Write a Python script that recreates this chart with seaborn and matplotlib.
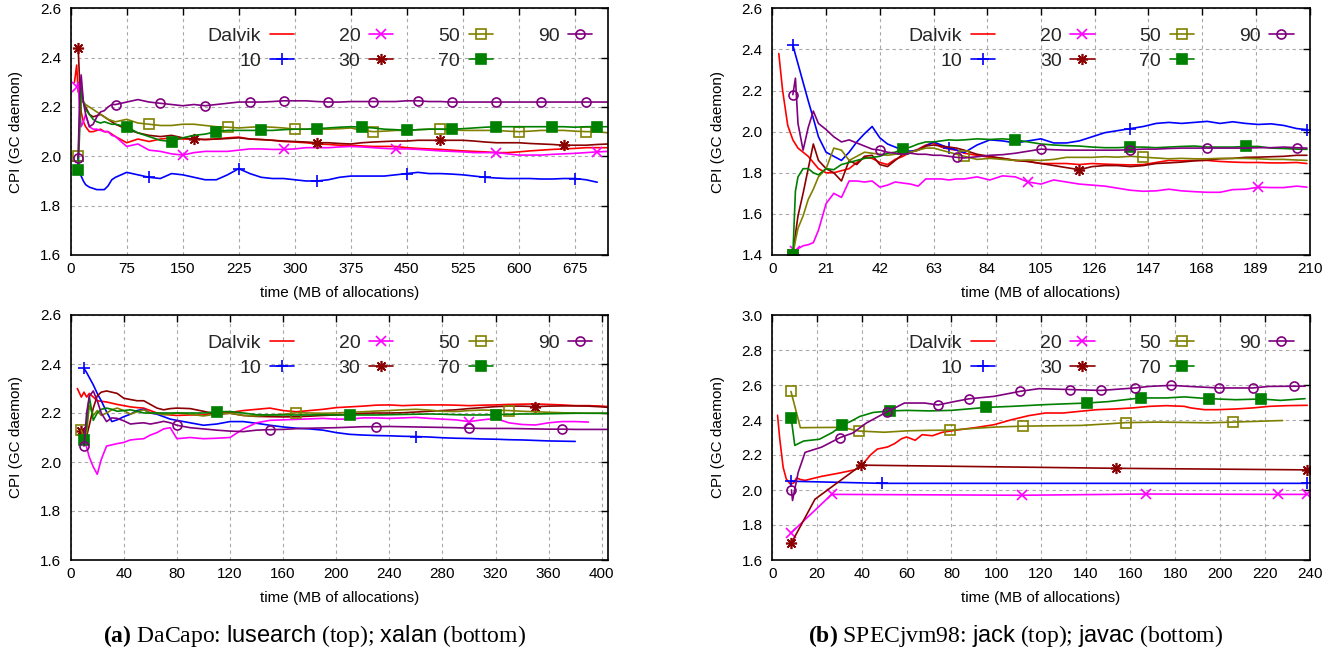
import numpy as np
import pandas as pd
import matplotlib
matplotlib.use("Agg")
import matplotlib.pyplot as plt
from matplotlib.lines import Line2D
import seaborn as sns

nan = np.nan

SERIES = ["Dalvik", "10", "20", "30", "50", "70", "90"]

# ---------------- DaCapo lusearch (top left) ----------------
LUS_X = [5, 8, 10, 12, 14, 17, 20, 25, 30, 35, 40, 45, 50, 55, 60,
         75, 90, 105, 120, 135, 150, 165, 180, 195, 210,
         225, 240, 255, 270, 285, 300, 315, 330, 345, 360,
         375, 390, 405, 420, 435, 450, 465, 480, 495, 510,
         525, 540, 555, 570, 585, 600, 615, 630, 645, 660,
         675, 690, 705, 720]
LUS_DALVIK = [2.30, 2.37, 2.26, 2.30, 2.18, 2.14, 2.12, 2.10, 2.10, 2.105, 2.11, 2.10, 2.10, 2.09, 2.08,
              2.055, 2.07, 2.06, 2.07, 2.075, 2.07, 2.07, 2.068, 2.07, 2.075,
              2.078, 2.07, 2.068, 2.065, 2.06, 2.058, 2.055, 2.05, 2.048, 2.045,
              2.045, 2.042, 2.04, 2.04, 2.04, 2.035, 2.032, 2.03, 2.028, 2.025,
              2.022, 2.02, 2.018, 2.015, 2.015, 2.018, 2.022, 2.025, 2.028, 2.03,
              2.032, 2.035, 2.035, 2.035]
LUS_10 = [nan, nan, 1.98, 1.95, 1.92, 1.90, 1.885, 1.875, 1.87, 1.865, 1.865, 1.865, 1.88, 1.905, 1.915,
          1.935, 1.925, 1.915, 1.91, 1.93, 1.925, 1.915, 1.905, 1.905, 1.925,
          1.95, 1.93, 1.915, 1.91, 1.91, 1.905, 1.90, 1.90, 1.905, 1.915,
          1.92, 1.92, 1.92, 1.92, 1.925, 1.93, 1.935, 1.93, 1.93, 1.928,
          1.925, 1.92, 1.915, 1.912, 1.91, 1.91, 1.91, 1.908, 1.908, 1.91,
          1.91, 1.905, 1.895, nan]
LUS_20 = [nan, 2.28, 2.30, 2.20, 2.12, 2.14, 2.17, 2.12, 2.11, 2.11, 2.105, 2.10, 2.10, 2.085, 2.08,
          2.04, 2.05, 2.025, 2.02, 2.01, 2.005, 2.015, 2.02, 2.02, 2.02,
          2.025, 2.03, 2.03, 2.028, 2.028, 2.03, 2.035, 2.035, 2.035, 2.038,
          2.04, 2.038, 2.035, 2.032, 2.03, 2.03, 2.028, 2.025, 2.022, 2.02,
          2.018, 2.015, 2.015, 2.015, 2.01, 2.005, 2.005, 2.005, 2.008, 2.01,
          2.012, 2.015, 2.018, 2.02]
LUS_30 = [nan, nan, 2.44, 2.30, 2.26, 2.22, 2.20, 2.17, 2.16, 2.165, 2.17, 2.16, 2.15, 2.14, 2.13,
          2.11, 2.095, 2.085, 2.08, 2.085, 2.075, 2.07, 2.068, 2.07, 2.072,
          2.075, 2.07, 2.068, 2.065, 2.062, 2.06, 2.058, 2.055, 2.055, 2.052,
          2.05, 2.055, 2.058, 2.06, 2.062, 2.062, 2.065, 2.065, 2.065, 2.065,
          2.065, 2.062, 2.058, 2.055, 2.055, 2.055, 2.052, 2.05, 2.048, 2.045,
          2.045, 2.045, 2.048, 2.05]
LUS_50 = [nan, nan, 2.0, 2.15, 2.24, 2.22, 2.21, 2.20, 2.19, 2.18, 2.17, 2.16, 2.15, 2.145, 2.14,
          2.15, 2.135, 2.13, 2.125, 2.125, 2.13, 2.13, 2.125, 2.12, 2.118,
          2.115, 2.118, 2.12, 2.118, 2.115, 2.11, 2.11, 2.11, 2.11, 2.112,
          2.115, 2.105, 2.10, 2.102, 2.105, 2.105, 2.108, 2.11, 2.11, 2.108,
          2.105, 2.105, 2.105, 2.105, 2.102, 2.10, 2.102, 2.105, 2.105, 2.105,
          2.102, 2.10, 2.10, 2.095]
LUS_70 = [nan, nan, 1.945, 2.10, 2.28, 2.22, 2.19, 2.17, 2.15, 2.14, 2.135, 2.14, 2.135, 2.13, 2.13,
          2.12, 2.095, 2.08, 2.065, 2.06, 2.075, 2.085, 2.09, 2.10, 2.105,
          2.105, 2.105, 2.105, 2.105, 2.108, 2.11, 2.11, 2.112, 2.115, 2.118,
          2.12, 2.118, 2.115, 2.11, 2.108, 2.105, 2.108, 2.11, 2.11, 2.11,
          2.112, 2.115, 2.118, 2.12, 2.12, 2.12, 2.12, 2.12, 2.12, 2.12,
          2.118, 2.12, 2.12, 2.12]
LUS_90 = [nan, nan, 1.995, 2.25, 2.33, 2.22, 2.17, 2.12, 2.13, 2.16, 2.18, 2.185, 2.20, 2.21, 2.21,
          2.22, 2.23, 2.22, 2.215, 2.21, 2.205, 2.21, 2.205, 2.21, 2.215,
          2.22, 2.22, 2.22, 2.222, 2.225, 2.225, 2.225, 2.222, 2.22, 2.22,
          2.222, 2.222, 2.222, 2.222, 2.222, 2.225, 2.225, 2.222, 2.222, 2.22,
          2.22, 2.22, 2.22, 2.22, 2.22, 2.22, 2.22, 2.22, 2.22, 2.22,
          2.22, 2.22, 2.22, 2.22]

# ---------------- SPECjvm98 jack (top right) ----------------
JACK_X = [2.5, 4, 6, 8, 9, 10, 12, 14, 16, 18,
          21, 24, 27, 30, 33, 36, 39, 42, 45, 48,
          51, 54, 57, 60, 63, 66, 69, 72, 75, 80,
          85, 90, 95, 100, 105, 110, 115, 120, 125, 130,
          135, 140, 145, 150, 155, 160, 165, 170, 175, 180,
          185, 190, 195, 200, 205, 209]
JACK_DALVIK = [2.38, 2.20, 2.03, 1.96, 1.94, 1.92, 1.90, 1.88, 1.85, 1.82,
               1.80, 1.80, 1.81, 1.82, 1.85, 1.875, 1.87, 1.85, 1.84, 1.865,
               1.88, 1.90, 1.915, 1.935, 1.945, 1.925, 1.915, 1.91, 1.895, 1.885,
               1.875, 1.87, 1.86, 1.855, 1.845, 1.845, 1.845, 1.84, 1.845, 1.842,
               1.84, 1.838, 1.84, 1.85, 1.86, 1.858, 1.86, 1.86, 1.855, 1.852,
               1.85, 1.85, 1.848, 1.848, 1.85, 1.845]
JACK_10 = [nan, nan, nan, 2.42, 2.375, 2.33, 2.24, 2.15, 2.065, 1.975,
           1.90, 1.88, 1.86, 1.90, 1.95, 1.99, 2.025, 1.97, 1.94, 1.925,
           1.91, 1.905, 1.91, 1.93, 1.95, 1.935, 1.92, 1.91, 1.898, 1.935,
           1.96, 1.955, 1.945, 1.955, 1.965, 1.945, 1.945, 1.955, 1.975, 1.995,
           2.005, 2.015, 2.025, 2.04, 2.045, 2.04, 2.045, 2.05, 2.04, 2.048,
           2.04, 2.035, 2.038, 2.03, 2.015, 2.01]
JACK_20 = [nan, nan, nan, 1.40, 1.42, 1.43, 1.445, 1.45, 1.46, 1.52,
           1.65, 1.70, 1.68, 1.76, 1.76, 1.755, 1.76, 1.73, 1.74, 1.755,
           1.75, 1.745, 1.735, 1.77, 1.77, 1.77, 1.765, 1.77, 1.77, 1.78,
           1.765, 1.785, 1.78, 1.755, 1.745, 1.765, 1.755, 1.745, 1.74, 1.735,
           1.725, 1.715, 1.71, 1.712, 1.72, 1.712, 1.708, 1.705, 1.705, 1.718,
           1.72, 1.73, 1.728, 1.728, 1.735, 1.73]
JACK_30 = [nan, nan, nan, 1.40, 1.50, 1.59, 1.70, 1.82, 1.94, 1.86,
           1.82, 1.80, 1.76, 1.86, 1.84, 1.88, 1.885, 1.84, 1.83, 1.86,
           1.89, 1.90, 1.91, 1.93, 1.935, 1.93, 1.925, 1.92, 1.91, 1.89,
           1.88, 1.87, 1.86, 1.855, 1.845, 1.835, 1.825, 1.815, 1.83, 1.835,
           1.835, 1.83, 1.835, 1.845, 1.848, 1.852, 1.858, 1.862, 1.868, 1.87,
           1.875, 1.876, 1.878, 1.88, 1.885, 1.885]
JACK_50 = [nan, nan, nan, 1.40, 1.47, 1.53, 1.59, 1.67, 1.72, 1.78,
           1.82, 1.92, 1.91, 1.86, 1.88, 1.90, 1.895, 1.89, 1.885, 1.89,
           1.895, 1.90, 1.91, 1.92, 1.92, 1.91, 1.90, 1.89, 1.88, 1.865,
           1.87, 1.865, 1.86, 1.862, 1.86, 1.865, 1.875, 1.875, 1.875, 1.878,
           1.876, 1.88, 1.876, 1.872, 1.868, 1.87, 1.868, 1.868, 1.87, 1.87,
           1.87, 1.868, 1.865, 1.865, 1.862, 1.86]
JACK_70 = [nan, nan, nan, 1.40, 1.71, 1.78, 1.82, 1.82, 1.80, 1.79,
           1.82, 1.815, 1.84, 1.85, 1.86, 1.87, 1.875, 1.88, 1.895, 1.90,
           1.915, 1.925, 1.94, 1.95, 1.95, 1.955, 1.96, 1.958, 1.96, 1.965,
           1.962, 1.965, 1.96, 1.95, 1.94, 1.935, 1.932, 1.93, 1.925, 1.922,
           1.922, 1.925, 1.925, 1.922, 1.925, 1.928, 1.93, 1.925, 1.925, 1.925,
           1.928, 1.928, 1.92, 1.918, 1.915, 1.914]
JACK_90 = [nan, nan, nan, 2.18, 2.26, 2.04, 1.91, 2.02, 2.10, 2.04,
           2.01, 1.975, 1.95, 1.96, 1.945, 1.93, 1.915, 1.91, 1.90, 1.895,
           1.89, 1.895, 1.89, 1.89, 1.885, 1.885, 1.88, 1.875, 1.872, 1.878,
           1.885, 1.888, 1.895, 1.905, 1.915, 1.912, 1.91, 1.91, 1.91, 1.91,
           1.91, 1.912, 1.915, 1.915, 1.918, 1.92, 1.92, 1.92, 1.92, 1.92,
           1.92, 1.922, 1.922, 1.925, 1.922, 1.92]

# ---------------- DaCapo xalan (bottom left) ----------------
XAL_X = [5, 8, 10, 12, 14, 17, 20, 23, 27, 31,
         35, 40, 45, 50, 55, 60, 65, 70, 75, 80,
         90, 100, 110, 120, 130, 140, 150, 160, 170, 180,
         190, 200, 210, 220, 230, 240, 250, 260, 270, 280,
         290, 300, 310, 320, 330, 340, 350, 360, 370, 380,
         390, 400, 405]
XAL_DALVIK = [2.30, 2.265, 2.285, 2.265, 2.28, 2.265, 2.25, 2.248, 2.245, 2.24,
              2.235, 2.23, 2.225, 2.222, 2.22, 2.21, 2.20, 2.195, 2.192, 2.19,
              2.192, 2.192, 2.203, 2.202, 2.21, 2.215, 2.22, 2.21, 2.205, 2.21,
              2.215, 2.222, 2.225, 2.228, 2.232, 2.233, 2.23, 2.232, 2.233, 2.233,
              2.232, 2.23, 2.232, 2.233, 2.235, 2.236, 2.237, 2.235, 2.233, 2.23,
              2.23, 2.228, 2.226]
XAL_10 = [nan, nan, 2.382, 2.365, 2.345, 2.315, 2.28, 2.25, 2.205, 2.165,
          2.172, 2.185, 2.195, 2.21, 2.215, 2.20, 2.195, 2.185, 2.175, 2.17,
          2.16, 2.15, 2.155, 2.165, 2.165, 2.158, 2.15, 2.143, 2.138, 2.135,
          2.13, 2.12, 2.113, 2.11, 2.108, 2.107, 2.105, 2.104, 2.102, 2.099,
          2.097, 2.096, 2.094, 2.093, 2.091, 2.09, 2.088, 2.086, 2.085, 2.084,
          nan, nan, nan]
XAL_20 = [nan, nan, 2.09, 2.06, 2.02, 1.98, 1.95, 2.01, 2.065, 2.07,
          2.075, 2.08, 2.09, 2.093, 2.095, 2.11, 2.12, 2.135, 2.14, 2.095,
          2.10, 2.095, 2.097, 2.10, 2.135, 2.16, 2.17, 2.172, 2.174, 2.176,
          2.178, 2.175, 2.175, 2.18, 2.18, 2.178, 2.18, 2.182, 2.178, 2.175,
          2.172, 2.165, 2.172, 2.178, 2.16, 2.153, 2.151, 2.16, 2.165, 2.165,
          2.163, nan, nan]
XAL_30 = [nan, 2.125, 2.11, 2.105, 2.15, 2.22, 2.27, 2.285, 2.29, 2.285,
          2.28, 2.26, 2.255, 2.25, 2.25, 2.235, 2.22, 2.213, 2.218, 2.22,
          2.218, 2.207, 2.195, 2.199, 2.19, 2.186, 2.185, 2.184, 2.185, 2.187,
          2.19, 2.192, 2.195, 2.199, 2.2, 2.2, 2.201, 2.204, 2.207, 2.21,
          2.213, 2.218, 2.222, 2.226, 2.228, 2.228, 2.226, 2.228, 2.229, 2.229,
          2.228, 2.225, 2.223]
XAL_50 = [nan, 2.13, 2.10, 2.12, 2.23, 2.19, 2.21, 2.19, 2.20, 2.213,
          2.22, 2.21, 2.195, 2.205, 2.213, 2.2, 2.198, 2.193, 2.195, 2.2,
          2.195, 2.188, 2.196, 2.199, 2.19, 2.188, 2.192, 2.195, 2.201, 2.2,
          2.199, 2.2, 2.203, 2.205, 2.208, 2.21, 2.213, 2.215, 2.212, 2.207,
          2.206, 2.21, 2.212, 2.211, 2.21, 2.207, 2.205, 2.203, 2.201, 2.2,
          2.199, 2.199, 2.198]
XAL_70 = [nan, nan, 2.09, 2.15, 2.268, 2.17, 2.2, 2.215, 2.22, 2.215,
          2.207, 2.21, 2.213, 2.207, 2.2, 2.2, 2.2, 2.2, 2.2, 2.2,
          2.2, 2.2, 2.205, 2.206, 2.2, 2.193, 2.192, 2.192, 2.192, 2.192,
          2.193, 2.192, 2.192, 2.192, 2.192, 2.193, 2.194, 2.195, 2.196, 2.195,
          2.193, 2.192, 2.192, 2.193, 2.195, 2.196, 2.196, 2.197, 2.198, 2.199,
          2.199, 2.199, 2.199]
XAL_90 = [nan, nan, 2.065, 2.20, 2.268, 2.29, 2.25, 2.20, 2.165, 2.18,
          2.178, 2.168, 2.155, 2.158, 2.16, 2.155, 2.16, 2.166, 2.16, 2.15,
          2.14, 2.135, 2.13, 2.126, 2.124, 2.13, 2.132, 2.133, 2.136, 2.138,
          2.139, 2.14, 2.142, 2.144, 2.144, 2.145, 2.144, 2.143, 2.142, 2.141,
          2.14, 2.138, 2.137, 2.137, 2.137, 2.136, 2.135, 2.134, 2.134, 2.133,
          2.133, 2.133, 2.133]

# ---------------- SPECjvm98 javac (bottom right) ----------------
JAVAC_DALVIK_X = [2.3, 3.3, 4.8, 6.2, 8, 9.5, 10.8, 12.5, 14.6, 22,
                  30, 37, 40.8, 43.8, 46.9, 51.5, 54.6, 57.7, 60, 63.8,
                  66.9, 71.5, 76, 83.8, 91.5, 99, 107, 114.6, 122, 130,
                  137.7, 145, 153, 161, 168.5, 176, 184, 187, 193, 199,
                  207, 214.6, 222, 230, 239]
JAVAC_DALVIK = [2.427, 2.29, 2.13, 2.063, 2.034, 2.04, 2.069, 2.06, 2.055, 2.078,
                2.097, 2.116, 2.154, 2.2, 2.234, 2.246, 2.265, 2.293, 2.303, 2.284,
                2.316, 2.31, 2.33, 2.345, 2.358, 2.373, 2.402, 2.425, 2.44, 2.44,
                2.45, 2.459, 2.463, 2.469, 2.478, 2.482, 2.478, 2.469, 2.459, 2.459,
                2.463, 2.469, 2.478, 2.482, 2.484]
JAVAC_10_X = [8.5, 49, 239]
JAVAC_10 = [2.05, 2.038, 2.038]
JAVAC_20_X = [8.5, 26.5, 111.5, 167, 226, 239]
JAVAC_20 = [1.757, 1.975, 1.97, 1.977, 1.975, 1.975]
JAVAC_30_X = [8.5, 19, 39.7, 153.5, 239]
JAVAC_30 = [1.697, 1.947, 2.142, 2.124, 2.115]
JAVAC_50_X = [8.3, 12.5, 20, 31, 38.7, 50, 60, 70, 79.5, 90, 100,
              112, 125, 138, 150, 158, 172, 185, 195, 206, 218, 228]
JAVAC_50 = [2.563, 2.356, 2.357, 2.358, 2.337, 2.33, 2.338, 2.341, 2.342, 2.352, 2.36,
            2.365, 2.367, 2.369, 2.378, 2.385, 2.388, 2.386, 2.384, 2.388, 2.393, 2.397]
JAVAC_70_X = [8.4, 10, 14, 21, 27, 31, 35, 39, 45, 52.5, 60, 70, 80,
              95.5, 107, 122, 140.5, 150, 164.5, 176, 184, 195, 207, 218.5, 227, 238]
JAVAC_70 = [2.41, 2.255, 2.28, 2.29, 2.33, 2.37, 2.392, 2.42, 2.443, 2.452, 2.455, 2.452, 2.455,
            2.472, 2.478, 2.488, 2.497, 2.505, 2.526, 2.526, 2.532, 2.522, 2.516, 2.52, 2.512, 2.522]
JAVAC_90_X = [8.5, 9, 11.5, 14.6, 22, 30.3, 36, 42, 51, 59, 68, 74, 82, 87.8,
              99, 110.8, 119, 133, 146.8, 161.9, 168.5, 178.2, 186, 199.5, 214.6, 222, 233, 238]
JAVAC_90 = [2.0, 1.94, 2.10, 2.215, 2.245, 2.30, 2.326, 2.383, 2.445, 2.497, 2.497, 2.486, 2.507, 2.521,
            2.535, 2.564, 2.579, 2.574, 2.569, 2.583, 2.592, 2.598, 2.592, 2.583, 2.583, 2.592, 2.593, 2.593]

# ---------------- styling ----------------
COLORS = {"Dalvik": "#ff0000", "10": "#0000ff", "20": "#ff00ff", "30": "#8b0000",
          "50": "#808000", "70": "#008000", "90": "#800080"}
MARKERS = {"Dalvik": None, "10": "+", "20": "x", "30": (8, 2, 0),
           "50": "s", "70": "s", "90": "o"}
MSIZE = {"10": 8.5, "20": 7, "30": 8, "50": 6.5, "70": 6.5, "90": 6.5}
FILLED = {"10": True, "20": True, "30": True, "50": False, "70": True, "90": False}
LW = 1.2

sns.set_theme(style="white")
plt.rcParams["font.family"] = ["Liberation Sans", "DejaVu Sans"]
plt.rcParams["mathtext.fontset"] = "custom"
plt.rcParams["mathtext.rm"] = "Liberation Serif"
plt.rcParams["mathtext.bf"] = "Liberation Serif:bold"
plt.rcParams["mathtext.sf"] = "Liberation Sans"


def marker_kw(key):
    c = COLORS[key]
    return dict(marker=MARKERS[key], markersize=MSIZE[key], markeredgewidth=1.2,
                markeredgecolor=c, markerfacecolor=c if FILLED[key] else "none")


def mark_positions(x, start, step):
    """indices of the points closest to start, start+step, ... (gnuplot pointinterval)"""
    targets = []
    t = start
    while t <= x.max() + 1.0:
        if t >= x.min() - 0.25 * step:
            targets.append(t)
        t += step
    return sorted({int(np.argmin(np.abs(x - t))) for t in targets})


def draw(ax, x, y, key, marks=None):
    x = np.asarray(x, dtype=float)
    y = np.asarray(y, dtype=float)
    if len(x) != len(y):
        raise ValueError(f"length mismatch for {key}: {len(x)} vs {len(y)}")
    ok = ~np.isnan(y)
    x, y = x[ok], y[ok]
    kw = dict(color=COLORS[key], linewidth=LW)
    if MARKERS[key] is not None and marks is not None:
        idx = mark_positions(x, *marks) if isinstance(marks, tuple) else list(marks)
        kw.update(marker_kw(key))
        kw["markevery"] = idx
    df = pd.DataFrame({"x": x, "y": y})
    sns.lineplot(data=df, x="x", y="y", ax=ax, estimator=None, sort=False, **kw)


def frame(ax, xlim, xticks, ylim, yticks):
    ax.set_xlim(*xlim)
    ax.set_ylim(*ylim)
    ax.set_xticks(xticks)
    ax.set_yticks(yticks)
    ax.set_xticklabels([str(v) for v in xticks])
    ax.set_yticklabels([f"{v:.1f}" for v in yticks])
    ax.grid(True, color="#a8a8a8", linestyle=(0, (3, 3)), linewidth=0.8)
    ax.set_axisbelow(True)
    ax.tick_params(axis="both", direction="in", top=True, right=True, length=5,
                   width=1.0, color="black", labelsize=11, labelcolor="black")
    ax.tick_params(axis="x", pad=5)
    ax.tick_params(axis="y", pad=7)
    for s in ax.spines.values():
        s.set_visible(True)
        s.set_linewidth(1.2)
        s.set_color("black")
    ax.set_xlabel("time (MB of allocations)", fontsize=11, color="black")
    ax.set_ylabel("CPI (GC daemon)", fontsize=11, color="black")
    ax.xaxis.label.set_va("center")
    ax.yaxis.label.set_va("center")
    h = ax.get_position().height * 651
    ax.xaxis.set_label_coords(0.5, -38.0 / h)
    ax.yaxis.set_label_coords(-0.1017, 0.5)

    handles = []
    for key in SERIES:
        kw = dict(color=COLORS[key], linewidth=LW)
        if MARKERS[key] is not None:
            kw.update(marker_kw(key))
        handles.append(Line2D([], [], **kw))
    w = ax.get_position().width * 1328
    ax.legend(handles, SERIES, ncol=4, loc="upper right",
              bbox_to_anchor=(1 - 16.0 / w, 1 - 19.0 / h), frameon=False,
              markerfirst=False, fontsize=14, handlelength=1.25, handletextpad=0.45,
              columnspacing=2.3, labelspacing=0.38, borderpad=0, borderaxespad=0,
              numpoints=1)


fig = plt.figure(figsize=(13.28, 6.51), dpi=100)
ax_lus = fig.add_axes([70.7 / 1328, 1 - 255 / 651, 537.7 / 1328, 246.7 / 651])
ax_jack = fig.add_axes([772.4 / 1328, 1 - 255 / 651, 537.1 / 1328, 246.7 / 651])
ax_xal = fig.add_axes([70.7 / 1328, 1 - 560 / 651, 537.7 / 1328, 245 / 651])
ax_javac = fig.add_axes([772.4 / 1328, 1 - 560 / 651, 537.1 / 1328, 245 / 651])

# lusearch
draw(ax_lus, LUS_X, LUS_DALVIK, "Dalvik")
draw(ax_lus, LUS_X, LUS_10, "10", (-3.6, 112.6))
draw(ax_lus, LUS_X, LUS_20, "20", (5, 141.5))
draw(ax_lus, LUS_X, LUS_30, "30", (4, 163.5))
draw(ax_lus, LUS_X, LUS_50, "50", (6, 98.3))
draw(ax_lus, LUS_X, LUS_70, "70", (8.6, 63.1))
draw(ax_lus, LUS_X, LUS_90, "90", (8.6, 56.3))
frame(ax_lus, (0, 720), list(range(0, 720, 75)), (1.6, 2.6), [1.6, 1.8, 2.0, 2.2, 2.4, 2.6])

# jack
draw(ax_jack, JACK_X, JACK_DALVIK, "Dalvik")
draw(ax_jack, JACK_X, JACK_10, "10", (-1.8, 70))
draw(ax_jack, JACK_X, JACK_20, "20", (8.7, 91))
draw(ax_jack, JACK_X, JACK_30, "30", (8, 113))
draw(ax_jack, JACK_X, JACK_50, "50", (8.3, 68.5))
draw(ax_jack, JACK_X, JACK_70, "70", (7.5, 44.7))
draw(ax_jack, JACK_X, JACK_90, "90", (8.2, 32.5))
frame(ax_jack, (0, 210), list(range(0, 211, 21)), (1.4, 2.6),
      [1.4, 1.6, 1.8, 2.0, 2.2, 2.4, 2.6])

# xalan
draw(ax_xal, XAL_X, XAL_DALVIK, "Dalvik")
draw(ax_xal, XAL_X, XAL_10, "10", (10.5, 254.5))
draw(ax_xal, XAL_X, XAL_20, "20", (10, 289))
draw(ax_xal, XAL_X, XAL_30, "30", (8, 344))
draw(ax_xal, XAL_X, XAL_50, "50", (8, 161.5))
draw(ax_xal, XAL_X, XAL_70, "70", (10, 102.3))
draw(ax_xal, XAL_X, XAL_90, "90", (8, 73.2))
frame(ax_xal, (0, 405), list(range(0, 401, 40)), (1.6, 2.6), [1.6, 1.8, 2.0, 2.2, 2.4, 2.6])

# javac
draw(ax_javac, JAVAC_DALVIK_X, JAVAC_DALVIK, "Dalvik")
draw(ax_javac, JAVAC_10_X, JAVAC_10, "10", [0, 1, 2])
draw(ax_javac, JAVAC_20_X, JAVAC_20, "20", [0, 1, 2, 3, 4, 5])
draw(ax_javac, JAVAC_30_X, JAVAC_30, "30", [0, 2, 3, 4])
draw(ax_javac, JAVAC_50_X, JAVAC_50, "50", [0, 4, 8, 11, 15, 19])
draw(ax_javac, JAVAC_70_X, JAVAC_70, "70", [0, 5, 9, 13, 16, 18, 21, 23])
draw(ax_javac, JAVAC_90_X, JAVAC_90, "90", [0, 5, 8, 11, 13, 15, 17, 18, 19, 21, 23, 24, 26])
frame(ax_javac, (0, 240), list(range(0, 241, 20)), (1.6, 3.0),
      [1.6, 1.8, 2.0, 2.2, 2.4, 2.6, 2.8, 3.0])

fig.text(315 / 1328, 1 - 636 / 651,
         r"$\mathbf{(a)}$ DaCapo: $\mathsf{lusearch}$ (top); $\mathsf{xalan}$ (bottom)",
         ha="center", va="center", fontsize=17, family="Liberation Serif", color="black")
fig.text(1016 / 1328, 1 - 636 / 651,
         r"$\mathbf{(b)}$ SPECjvm98: $\mathsf{jack}$ (top); $\mathsf{javac}$ (bottom)",
         ha="center", va="center", fontsize=17, family="Liberation Serif", color="black")

fig.savefig("out.png", dpi=100, facecolor="white")
